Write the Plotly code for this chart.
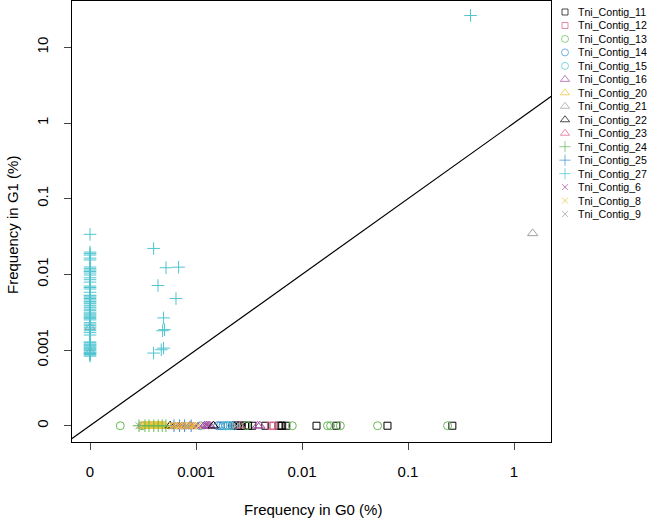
import plotly.graph_objects as go

# ---------------- data (frequencies in %, 0 = not observed) ----------------
contig_names = ["Tni_Contig_11", "Tni_Contig_12", "Tni_Contig_13", "Tni_Contig_14",
                "Tni_Contig_15", "Tni_Contig_16", "Tni_Contig_20", "Tni_Contig_21",
                "Tni_Contig_22", "Tni_Contig_23", "Tni_Contig_24", "Tni_Contig_25",
                "Tni_Contig_27", "Tni_Contig_6", "Tni_Contig_8", "Tni_Contig_9"]

c11_g0 = [0.0022, 0.00235, 0.00245, 0.0026, 0.0027, 0.0029, 0.0031, 0.0034, 0.0045,
          0.0060, 0.0063, 0.0065, 0.0071, 0.0137, 0.0211, 0.064, 0.262]
c11_g1 = [0, 0, 0, 0, 0, 0, 0, 0, 0, 0, 0, 0, 0, 0, 0, 0, 0]
c12_g0 = [0.0051, 0.0054]
c12_g1 = [0, 0]
c13_g0 = [0.000193, 0.00031, 0.0030, 0.0081, 0.0174, 0.0186, 0.0230, 0.0516, 0.236]
c13_g1 = [0, 0, 0, 0, 0, 0, 0, 0, 0]
c14_g0 = [0.0016, 0.0017, 0.0018, 0.0019, 0.0020, 0.0023]
c14_g1 = [0, 0, 0, 0, 0, 0]
c15_g0 = [0.0011, 0.0019, 0.0021]
c15_g1 = [0, 0, 0]
c16_g0 = [0.0012, 0.00125, 0.0013, 0.00135, 0.0038, 0.0040]
c16_g1 = [0, 0, 0, 0, 0, 0]
c20_g0 = [0.00031, 0.00032, 0.00033, 0.00034, 0.00035, 0.00036, 0.00037, 0.00038,
          0.00039, 0.00040, 0.00041, 0.00042, 0.00043, 0.00044, 0.00045, 0.00046,
          0.00047, 0.00048, 0.00049, 0.00051]
c20_g1 = [0, 0, 0, 0, 0, 0, 0, 0, 0, 0, 0, 0, 0, 0, 0, 0, 0, 0, 0, 0]
c21_g0 = [0, 0, 1.50]
c21_g1 = [0.0020, 0.00094, 0.0348]
c22_g0 = [0.00057, 0.00146]
c22_g1 = [0, 0]
c23_g0 = [0.00088, 0.0026]
c23_g1 = [0, 0]
c24_g0 = [0.00029, 0.00033, 0.00036, 0.00040, 0.00044, 0.00048, 0.00052]
c24_g1 = [0, 0, 0, 0, 0, 0, 0]
c25_g0 = [0.00062, 0.00070, 0.00078, 0.00090]
c25_g1 = [0, 0, 0, 0]
# Tni_Contig_27: a column of reads absent in G0 ...
c27_zero_g1 = [0.0338, 0.0197, 0.0188, 0.0180, 0.0164, 0.0155, 0.0125, 0.0119, 0.0114,
               0.0109, 0.0104, 0.0098, 0.0090, 0.0085, 0.0079, 0.0070, 0.0067, 0.0064,
               0.0058, 0.0053, 0.0052, 0.0050, 0.0048, 0.0046, 0.0044, 0.0043, 0.0041,
               0.0039, 0.0037, 0.0036, 0.0034, 0.0033, 0.0031, 0.0030, 0.0029, 0.0028,
               0.0027, 0.0026, 0.0025, 0.0023, 0.0022, 0.0021, 0.0020, 0.0019, 0.0018,
               0.0017, 0.00158, 0.00128, 0.00125, 0.00120, 0.00117, 0.00114, 0.00110,
               0.00107, 0.00104, 0.00101, 0.00098, 0.00094, 0.00092, 0.00090, 0.00088,
               0.00086, 0.00083]
# ... and reads present in both generations
c27_both_g0 = [0.000398, 0.000521, 0.000685, 0.000438, 0.000647, 0.000494, 0.000505,
               0.000484, 0.000494, 0.000470, 0.000398, 0.389]
c27_both_g1 = [0.0220, 0.01224, 0.01245, 0.00712, 0.00479, 0.00266, 0.00186, 0.00180,
               0.00106, 0.00101, 0.000912, 26.3]
c6_g0 = [0.00060, 0.00064, 0.00068, 0.00072, 0.00075, 0.00079, 0.00083, 0.00088,
         0.00092, 0.00097, 0.00101, 0.00110, 0.00121, 0.00130]
c6_g1 = [0, 0, 0, 0, 0, 0, 0, 0, 0, 0, 0, 0, 0, 0]
c8_g0 = [0.00056, 0.00060, 0.00063, 0.00067, 0.00070, 0.00074, 0.00079, 0.00083,
         0.00087, 0.00092, 0.00096, 0.00105]
c8_g1 = [0, 0, 0, 0, 0, 0, 0, 0, 0, 0, 0, 0]
c9_g0 = [0.00029, 0.00081, 0.0024, 0.0026]
c9_g1 = [0, 0, 0, 0]

x_tick_vals = [0, 0.001, 0.01, 0.1, 1]
x_tick_text = ["0", "0.001", "0.01", "0.1", "1"]
y_tick_vals = [0, 0.001, 0.01, 0.1, 1, 10]
y_tick_text = ["0", "0.001", "0.01", "0.1", "1", "10"]

# ---------------- styling ----------------
ZERO_POS = 1e-4  # where zero frequencies are drawn on the log axes
BLACK, PINK, GREEN, BLUE = "#000000", "#DB5A7E", "#64B955", "#3C8ECF"
CYAN, PURPLE, YELLOW, GRAY = "#4FC4D0", "#A04CA0", "#EBC12F", "#A0A0A0"
FONT = "Liberation Sans, Arial, sans-serif"

c27_g0 = [0.0 for _ in c27_zero_g1] + c27_both_g0
c27_g1 = c27_zero_g1 + c27_both_g1

series = [
    (c11_g0, c11_g1, "square-open", BLACK, 7),
    (c12_g0, c12_g1, "square-open", PINK, 7),
    (c13_g0, c13_g1, "circle-open", GREEN, 8),
    (c14_g0, c14_g1, "circle-open", BLUE, 8),
    (c15_g0, c15_g1, "circle-open", CYAN, 8),
    (c16_g0, c16_g1, "triangle-up-open", PURPLE, 9),
    (c20_g0, c20_g1, "triangle-up-open", YELLOW, 9),
    (c21_g0, c21_g1, "triangle-up-open", GRAY, 9),
    (c22_g0, c22_g1, "triangle-up-open", BLACK, 9),
    (c23_g0, c23_g1, "triangle-up-open", PINK, 9),
    (c24_g0, c24_g1, "cross-thin-open", GREEN, 9),
    (c25_g0, c25_g1, "cross-thin-open", BLUE, 9),
    (c27_g0, c27_g1, "cross-thin-open", CYAN, 9),
    (c6_g0, c6_g1, "x-thin-open", PURPLE, 7),
    (c8_g0, c8_g1, "x-thin-open", YELLOW, 7),
    (c9_g0, c9_g1, "x-thin-open", GRAY, 7),
]


def pos(vals):
    return [v if v > 0 else ZERO_POS for v in vals]


fig = go.Figure()
for name, (gx, gy, sym, col, size) in zip(contig_names, series):
    fig.add_trace(go.Scatter(
        x=pos(gx), y=pos(gy), mode="markers", name=name, showlegend=False,
        marker=dict(symbol=sym, size=size, color=col, line=dict(color=col, width=1)),
        xaxis="x", yaxis="y", cliponaxis=True))

# identity line y = x
fig.add_trace(go.Scatter(x=[1e-5, 100], y=[1e-5, 100], mode="lines",
                         line=dict(color="black", width=1.2), showlegend=False,
                         hoverinfo="skip", xaxis="x", yaxis="y"))

# ---------------- custom legend (right margin) ----------------
L, R, T, B = 72, 0, 1, 76
W, H = 647, 518
plot_w = W - L - R
main_right = 551
leg_y0, leg_step = 12, 13.47
leg_rows = [leg_y0 + leg_step * i for i in range(len(contig_names))]
fig.add_trace(go.Scatter(
    x=[565] * len(contig_names), y=leg_rows, mode="markers", showlegend=False,
    hoverinfo="skip",
    marker=dict(symbol=[s[2] for s in series], color=[s[3] for s in series],
                size=[s[4] - 1 for s in series],
                line=dict(color=[s[3] for s in series], width=1)),
    xaxis="x2", yaxis="y2"))

annotations = []
for name, yy in zip(contig_names, leg_rows):
    annotations.append(dict(x=576, y=yy, xref="x2", yref="y2", text=name,
                            showarrow=False, xanchor="left", yanchor="middle",
                            font=dict(size=10.6, color="black", family=FONT)))

# axis titles
annotations.append(dict(x=(313 - L) / plot_w, y=(H - B - 509) / (H - T - B), xref="paper",
                        yref="paper", text="Frequency in G0 (%)", showarrow=False,
                        xanchor="center", yanchor="middle",
                        font=dict(size=15, color="black", family=FONT)))
annotations.append(dict(x=(12 - L) / plot_w, y=(H - B - 225) / (H - T - B), xref="paper",
                        yref="paper", text="Frequency in G1 (%)", showarrow=False,
                        textangle=-90, xanchor="center", yanchor="middle",
                        font=dict(size=15, color="black", family=FONT)))

axis_common = dict(type="log", showgrid=False, zeroline=False, showline=True,
                   linecolor="black", linewidth=1, mirror=True, ticks="outside",
                   ticklen=7, tickwidth=1, tickcolor="#444444",
                   tickfont=dict(size=15, color="black", family=FONT))

fig.update_layout(
    width=W, height=H,
    margin=dict(l=L, r=R, t=T, b=B, pad=0),
    paper_bgcolor="white", plot_bgcolor="white",
    showlegend=False,
    xaxis=dict(domain=[0, (main_right - L) / plot_w], range=[-4.170, 0.349],
               tickvals=pos(x_tick_vals), ticktext=x_tick_text,
               ticklabelstandoff=9, anchor="y", **axis_common),
    yaxis=dict(domain=[0, 1], range=[-4.215, 1.612],
               tickvals=pos(y_tick_vals), ticktext=y_tick_text, tickangle=-90,
               ticklabelstandoff=10, anchor="x", **axis_common),
    xaxis2=dict(domain=[(main_right - L) / plot_w, 1], range=[main_right, W],
                visible=False, anchor="y2"),
    yaxis2=dict(domain=[0, 1], range=[H - B, T], visible=False, anchor="x2"),
    annotations=annotations,
)

fig.write_html("out.html", config={"displayModeBar": False},
               post_script="document.body.style.margin='0';"
                           "document.body.style.overflow='hidden';")
